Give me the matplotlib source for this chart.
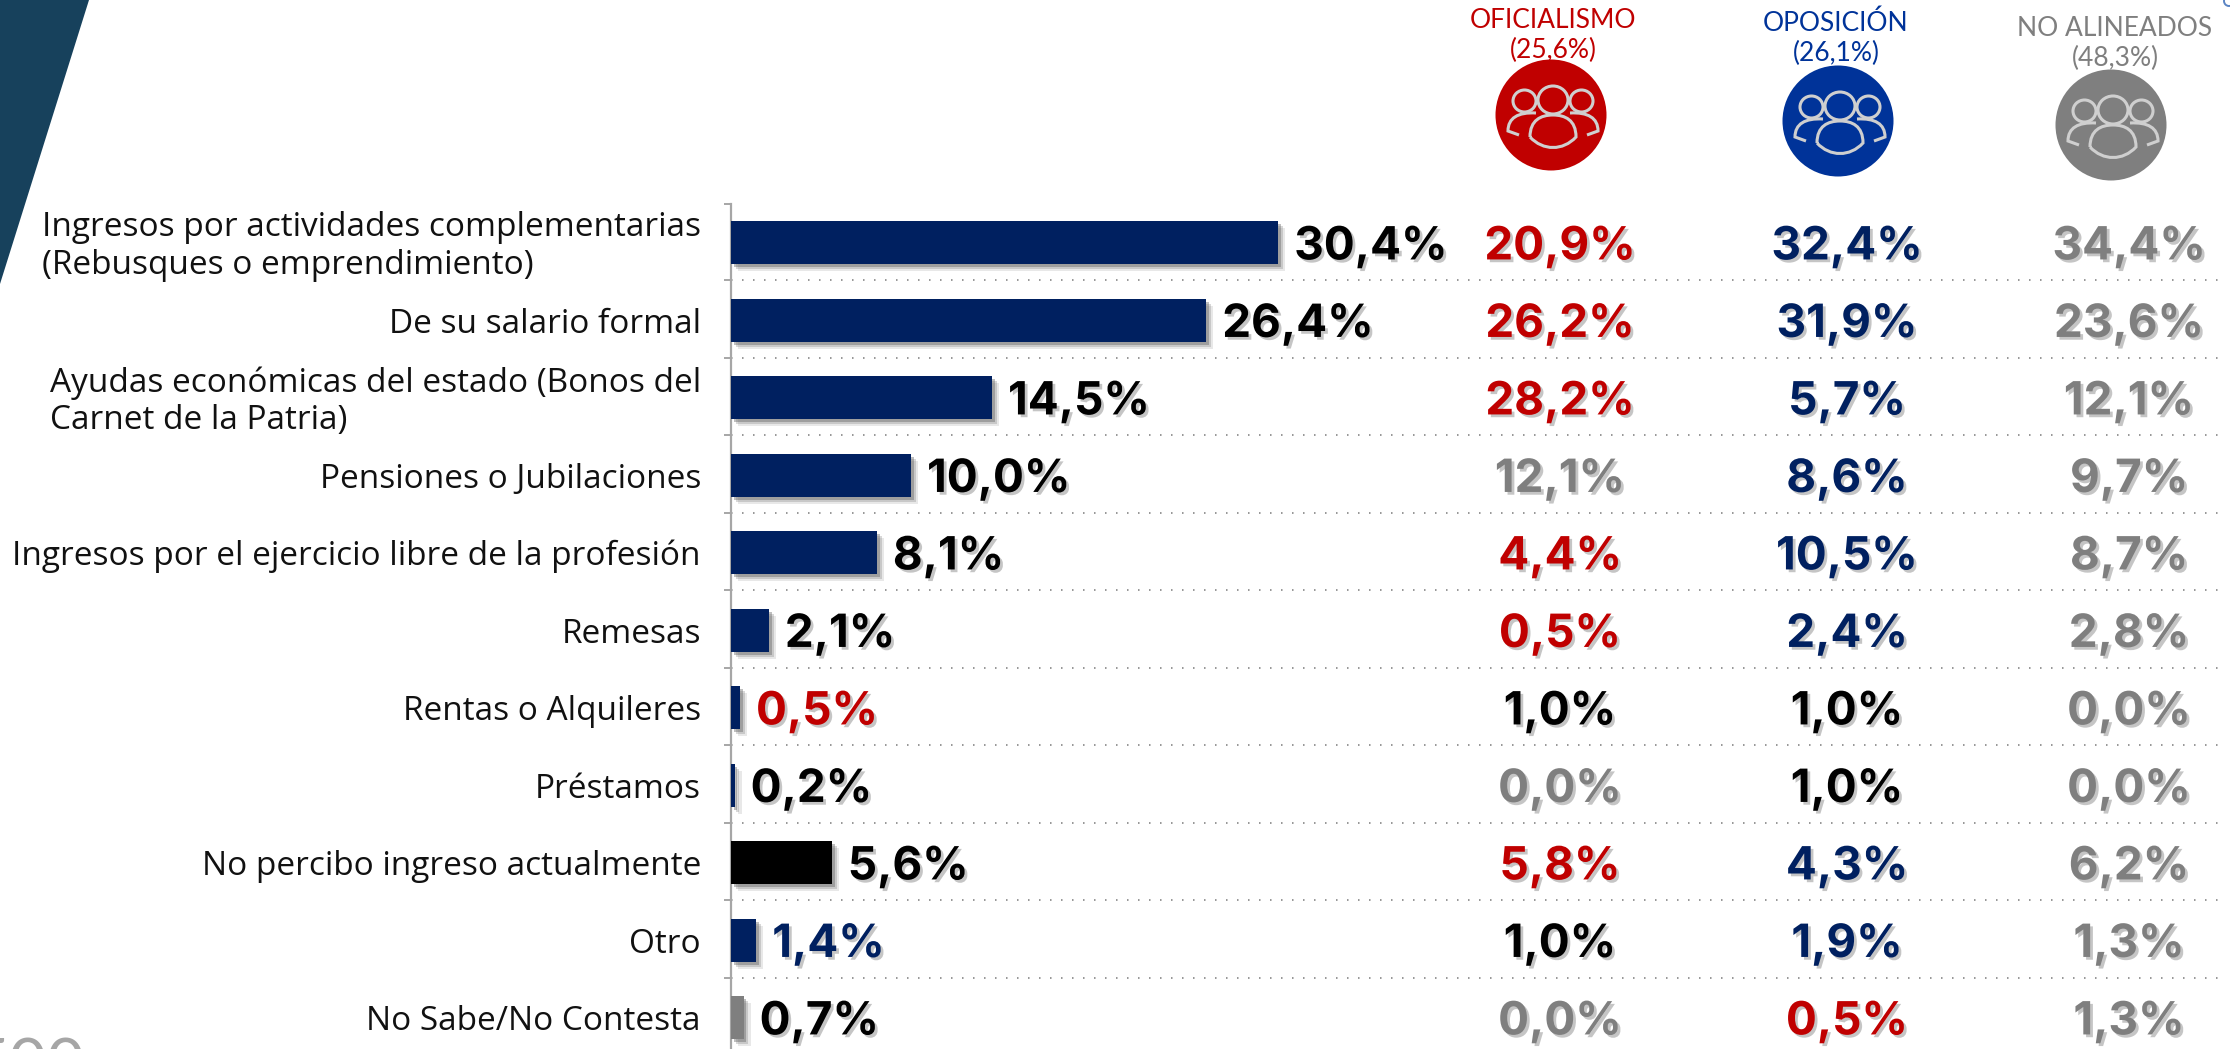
import matplotlib
matplotlib.use("Agg")
import matplotlib.pyplot as plt
import matplotlib.patheffects as pe
from matplotlib.patches import Circle, Ellipse, PathPatch, Polygon
from matplotlib.path import Path

W, H = 2230, 1049

RED = "#c00000"
NAVY = "#002060"
GREY = "#7f7f7f"
BLACK = "#000000"
HEAD_BLUE = "#003399"

categories = [
    "Ingresos por actividades complementarias\n(Rebusques o emprendimiento)",
    "De su salario formal",
    "Ayudas económicas del estado (Bonos del\nCarnet de la Patria)",
    "Pensiones o Jubilaciones",
    "Ingresos por el ejercicio libre de la profesión",
    "Remesas",
    "Rentas o Alquileres",
    "Préstamos",
    "No percibo ingreso actualmente",
    "Otro",
    "No Sabe/No Contesta",
]
total = [30.4, 26.4, 14.5, 10.0, 8.1, 2.1, 0.5, 0.2, 5.6, 1.4, 0.7]
oficialismo = [20.9, 26.2, 28.2, 12.1, 4.4, 0.5, 1.0, 0.0, 5.8, 1.0, 0.0]
oposicion = [32.4, 31.9, 5.7, 8.6, 10.5, 2.4, 1.0, 1.0, 4.3, 1.9, 0.5]
no_alineados = [34.4, 23.6, 12.1, 9.7, 8.7, 2.8, 0.0, 0.0, 6.2, 1.3, 1.3]

bar_colors = [NAVY] * 8 + [BLACK, NAVY, GREY]
total_colors = [BLACK] * 6 + [RED, BLACK, BLACK, NAVY, BLACK]
oficialismo_colors = [RED, RED, RED, GREY, RED, RED, BLACK, GREY, RED, BLACK, GREY]
oposicion_colors = [NAVY] * 6 + [BLACK, BLACK, NAVY, NAVY, RED]
no_alineados_colors = [GREY] * 11

groups = [
    ("OFICIALISMO", "(25,6%)", RED, RED, 1553, 20, 1551, 115),
    ("OPOSICIÓN", "(26,1%)", HEAD_BLUE, HEAD_BLUE, 1836, 23, 1838, 121),
    ("NO ALINEADOS", "(48,3%)", GREY, GREY, 2115, 28, 2111, 125),
]

PX_PER_PCT = 18.0
AXIS_X = 731
ROW_0 = 242.8
ROW_H = 77.5


def pct(v):
    return f"{v:.1f}".replace(".", ",") + "%"


def text_shadow():
    return [
        pe.SimplePatchShadow(offset=(2, -2), shadow_rgbFace="#808080", alpha=0.45),
        pe.Normal(),
    ]


def bar_shadow():
    return [
        pe.SimplePatchShadow(offset=(5, -5), shadow_rgbFace="#808080", alpha=0.18),
        pe.SimplePatchShadow(offset=(3.5, -3.5), shadow_rgbFace="#808080", alpha=0.3),
        pe.SimplePatchShadow(offset=(2, -2), shadow_rgbFace="#606060", alpha=0.4),
        pe.Normal(),
    ]


def draw_people(ax, cx, cy):
    # outline icon, offsets are pixels from the circle centre
    line = dict(fill=False, edgecolor="#cfcfcf", linewidth=2.2, zorder=5)
    ax.add_patch(Ellipse((cx, cy - 15), 30, 28, **line))
    ax.add_patch(Ellipse((cx - 28.5, cy - 14), 23, 22, **line))
    ax.add_patch(Ellipse((cx + 28.5, cy - 14), 23, 22, **line))

    body = [(-23, 22), (-23, 5), (-12, 0), (0, 0), (12, 0), (23, 5), (23, 22),
            (10, 36), (-10, 36), (-23, 22)]
    codes = [Path.MOVETO] + [Path.CURVE4] * 9
    ax.add_patch(PathPatch(Path([(cx + x, cy + y) for x, y in body], codes), **line))

    for side in (-1, 1):
        arm = [(17, -2), (35, -3), (45, 3), (45, 16), (34, 20)]
        codes = [Path.MOVETO, Path.CURVE4, Path.CURVE4, Path.CURVE4, Path.LINETO]
        verts = [(cx + side * x, cy + y) for x, y in arm]
        ax.add_patch(PathPatch(Path(verts, codes), **line))


fig = plt.figure(figsize=(W / 100, H / 100), dpi=100, facecolor="white")

# pixel axes for the slide decoration and the headers
deco = fig.add_axes([0, 0, 1, 1])
deco.set_xlim(0, W)
deco.set_ylim(H, 0)
deco.axis("off")

deco.add_patch(Polygon([(0, 0), (89, 0), (0, 284)], closed=True, facecolor="#17415c", edgecolor="none"))
deco.add_patch(Circle((2229, 1), 5, fill=False, edgecolor="#5b84c4", linewidth=1.4))
deco.text(85, 1085, "500", ha="right", va="baseline", fontsize=47, color="#a6a6a6", family="Lato")

for name, share, text_color, fill, tx, ty, cx, cy in groups:
    deco.text(tx, ty, name, ha="center", va="center", fontsize=19, color=text_color, family="Lato")
    deco.text(tx, ty + 30, share, ha="center", va="center", fontsize=19, color=text_color, family="Lato")
    deco.add_patch(Circle((cx, cy), 55.5, facecolor=fill, edgecolor="none"))
    draw_people(deco, cx + 2, cy)

# the chart, scaled so one percent is 18 px and one row 77.5 px
ax = fig.add_axes([AXIS_X / W, 0, 1 - AXIS_X / W, (H - 204) / H])
ax.patch.set_alpha(0)
ax.set_xlim(0, (W - AXIS_X) / PX_PER_PCT)
ax.set_ylim((H - ROW_0) / ROW_H, (204 - ROW_0) / ROW_H)

for s in ["top", "right", "bottom"]:
    ax.spines[s].set_visible(False)
ax.spines["left"].set_color("#a6a6a6")
ax.spines["left"].set_linewidth(1.6)

rows = list(range(len(categories)))
edges = [-0.5] + [r + 0.48 for r in rows[:-1]]
ax.set_yticks(edges)
ax.set_yticklabels([])
ax.set_xticks([])
ax.tick_params(axis="y", length=5, width=1.4, color="#a6a6a6")
for y in edges[1:]:
    ax.plot([0, 83], [y, y], color="#7a7a7a", linewidth=1.1, linestyle=(0, (1, 6.2)), zorder=1)

bars = ax.barh(rows, total, height=43 / ROW_H, color=bar_colors, zorder=3)
for b in bars:
    b.set_path_effects(bar_shadow())

for r, label in zip(rows, categories):
    ax.text(-30 / PX_PER_PCT, r + 0.05, label, ha="right", va="center", multialignment="left",
            fontsize=24, color="#111111", family="Open Sans", linespacing=1.18, clip_on=False)

for r, v, c in zip(rows, total, total_colors):
    t = ax.text(v + 16 / PX_PER_PCT, r + 0.06, pct(v), ha="left", va="center",
                fontsize=33, fontweight="bold", color=c, family="Inter", zorder=4)
    t.set_path_effects(text_shadow())

columns = [
    (1560, oficialismo, oficialismo_colors),
    (1847, oposicion, oposicion_colors),
    (2129, no_alineados, no_alineados_colors),
]
for px, values, colors in columns:
    x = (px - AXIS_X) / PX_PER_PCT
    for r, v, c in zip(rows, values, colors):
        t = ax.text(x, r + 0.06, pct(v), ha="center", va="center",
                    fontsize=33, fontweight="bold", color=c, family="Inter", zorder=4)
        t.set_path_effects(text_shadow())

fig.savefig("out.png", dpi=100)
